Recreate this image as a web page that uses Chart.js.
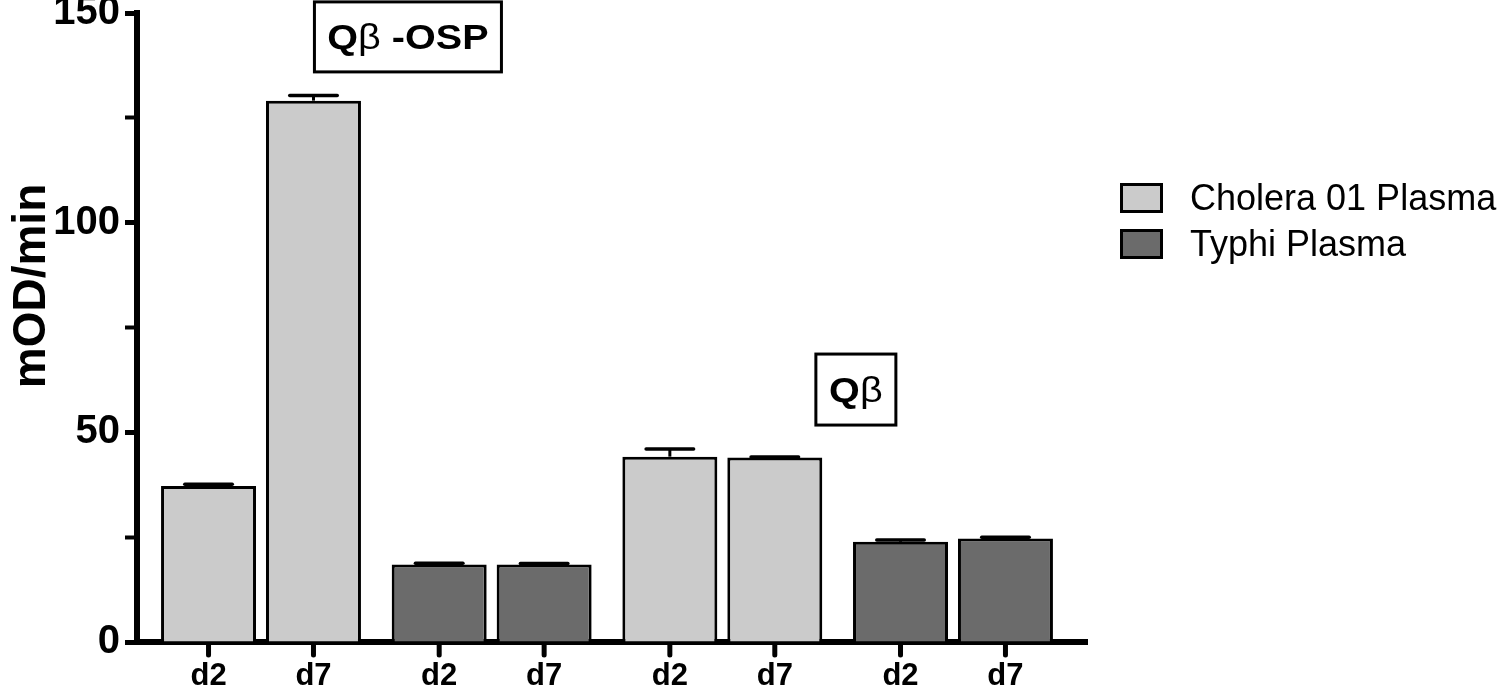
<!DOCTYPE html>
<html>
<head>
<meta charset="utf-8">
<title>mOD/min - Cholera vs Typhi plasma</title>
<script src="https://cdn.jsdelivr.net/npm/chart.js@4.4.0/dist/chart.umd.min.js"></script>
<style>
    html, body { margin: 0; padding: 0; background: #fff; }
    #wrap { position: relative; width: 1500px; height: 689px; }
</style>
</head>
<body>
<div id="wrap"><canvas id="chart"></canvas></div>
<script>
// Values (mOD/min, mean + SEM)
const groups = ['Qβ-OSP / Cholera', 'Qβ-OSP / Typhi', 'Qβ / Cholera', 'Qβ / Typhi'];
const groupPlasma = [0, 1, 0, 1];
const dayLabels = ['d2', 'd7'];
const d2Values = [37.2, 18.5, 44.2, 23.9];
const d7Values = [129.1, 18.5, 44.0, 24.7];
const d2Errors = [0.4, 0.3, 1.8, 0.4];
const d7Errors = [1.2, 0.2, 0.1, 0.3];
const plasmaNames = ['Cholera 01 Plasma', 'Typhi Plasma'];
const yMajorTicks = [0, 50, 100, 150];
const antigenLabels = ['Qβ -OSP', 'Qβ'];
const yTitle = 'mOD/min';

const FONT = 'Arial, "Liberation Sans", sans-serif';
const plasmaFill = ['#cbcbcb', '#6b6b6b'];

// where the boxed antigen labels sit (data units) and their box size (px)
const antigenBoxes = [
    { x: 0.637, y: 144.3, w: 187, h: 70 },
    { x: 2.579, y: 60.2, w: 80, h: 71 }
];

Chart.defaults.font.family = FONT;
Chart.defaults.color = '#000';

function barData(values) {
    return values.map((v, i) => ({ x: i, y: v }));
}

// Q bold, beta regular, like the original figure
function drawMixed(ctx, text, cx, baseline, size, stretch) {
    const parts = [...text].map(ch => ({ ch, font: (ch === 'β' ? '' : 'bold ') + size + 'px ' + FONT }));
    let total = 0;
    parts.forEach(p => { ctx.font = p.font; p.w = ctx.measureText(p.ch).width; total += p.w; });
    ctx.save();
    ctx.translate(cx, baseline);
    ctx.scale(stretch, 1);
    let x = -total / 2;
    ctx.textAlign = 'left';
    ctx.textBaseline = 'alphabetic';
    parts.forEach(p => { ctx.font = p.font; ctx.fillText(p.ch, x, 0); x += p.w; });
    ctx.restore();
}

const figurePlugin = {
    id: 'figure',
    afterDatasetsDraw(chart) {
        const ctx = chart.ctx;
        const y = chart.scales.y;
        const vals = [d2Values, d7Values];
        const errs = [d2Errors, d7Errors];
        ctx.save();
        ctx.strokeStyle = '#000';
        chart.data.datasets.forEach((ds, di) => {
            chart.getDatasetMeta(di).data.forEach((bar, i) => {
                const { x, width } = bar.getProps(['x', 'width'], true);
                const top = y.getPixelForValue(vals[di][i]);
                const end = y.getPixelForValue(vals[di][i] + errs[di][i]);
                ctx.lineWidth = 3;
                ctx.lineCap = 'butt';
                ctx.beginPath();
                ctx.moveTo(x, top);
                ctx.lineTo(x, end);
                ctx.stroke();
                ctx.lineWidth = 3.5;
                ctx.lineCap = 'round';
                ctx.beginPath();
                ctx.moveTo(x - width / 4, end);
                ctx.lineTo(x + width / 4, end);
                ctx.stroke();
            });
        });
        ctx.restore();
    },
    afterDraw(chart) {
        const ctx = chart.ctx;
        const area = chart.chartArea;
        const xs = chart.scales.x;
        const ys = chart.scales.y;
        ctx.save();
        ctx.fillStyle = '#000';
        ctx.strokeStyle = '#000';

        // x ticks + d2/d7 labels under each bar
        chart.data.datasets.forEach((ds, di) => {
            chart.getDatasetMeta(di).data.forEach(bar => {
                const { x } = bar.getProps(['x'], true);
                ctx.lineWidth = 5;
                ctx.lineCap = 'round';
                ctx.beginPath();
                ctx.moveTo(x, area.bottom + 3);
                ctx.lineTo(x, area.bottom + 13);
                ctx.stroke();
                ctx.font = 'bold 31px ' + FONT;
                ctx.textAlign = 'center';
                ctx.textBaseline = 'alphabetic';
                ctx.fillText(dayLabels[di], x, area.bottom + 43);
            });
        });

        // y axis title
        ctx.save();
        ctx.translate(45, 286);
        ctx.rotate(-Math.PI / 2);
        ctx.font = 'bold 46px ' + FONT;
        ctx.textAlign = 'center';
        ctx.textBaseline = 'alphabetic';
        ctx.fillText(yTitle, 0, 0);
        ctx.restore();

        // boxed antigen labels
        antigenBoxes.forEach((b, i) => {
            const cx = xs.getPixelForValue(b.x);
            const cy = ys.getPixelForValue(b.y);
            ctx.lineWidth = 3;
            ctx.lineCap = 'butt';
            ctx.fillStyle = '#fff';
            ctx.fillRect(cx - b.w / 2, cy - b.h / 2, b.w, b.h);
            ctx.strokeRect(cx - b.w / 2, cy - b.h / 2, b.w, b.h);
            ctx.fillStyle = '#000';
            drawMixed(ctx, antigenLabels[i], cx, cy + 12, 35, 1.13);
        });

        // legend
        const left = 1120, top = 183, pitch = 46;
        plasmaNames.forEach((name, i) => {
            const by = top + i * pitch;
            ctx.fillStyle = plasmaFill[i];
            ctx.fillRect(left, by, 43, 30);
            ctx.lineWidth = 3;
            ctx.strokeRect(left + 1.5, by + 1.5, 40, 27);
            ctx.fillStyle = '#000';
            ctx.font = '36px ' + FONT;
            ctx.textAlign = 'left';
            ctx.textBaseline = 'alphabetic';
            ctx.fillText(name, 1190, by + 27);
        });
        ctx.restore();
    }
};

const ctx = document.getElementById('chart').getContext('2d');
new Chart(ctx, {
    type: 'bar',
    data: {
        labels: groups,
        datasets: [
            {
                label: dayLabels[0],
                data: barData(d2Values),
                backgroundColor: groupPlasma.map(p => plasmaFill[p]),
                borderColor: '#000',
                borderWidth: 3,
                categoryPercentage: 0.91,
                barPercentage: 0.905
            },
            {
                label: dayLabels[1],
                data: barData(d7Values),
                backgroundColor: groupPlasma.map(p => plasmaFill[p]),
                borderColor: '#000',
                borderWidth: 3,
                categoryPercentage: 0.91,
                barPercentage: 0.905
            }
        ]
    },
    options: {
        responsive: true,
        maintainAspectRatio: false,
        animation: false,
        layout: { padding: { top: 13, right: 413, bottom: 0, left: 0 } },
        scales: {
            x: {
                type: 'linear',
                offset: false,
                min: -0.5376,
                max: 3.581,
                ticks: { display: false },
                afterBuildTicks: s => { s.ticks = groups.map((g, i) => ({ value: i })); },
                grid: { drawOnChartArea: false, drawTicks: false, offset: false },
                border: { display: true, width: 6, color: '#000' },
                afterFit: s => { s.height = 47; s.paddingLeft = 0; s.paddingRight = 0; }
            },
            y: {
                min: 0,
                max: 150,
                ticks: {
                    stepSize: 25,
                    padding: 5,
                    color: '#000',
                    font: { size: 40, weight: 'bold', lineHeight: 1 },
                    callback: v => yMajorTicks.includes(v) ? String(v) : ''
                },
                grid: {
                    drawOnChartArea: false,
                    drawTicks: true,
                    tickLength: 12,
                    tickWidth: c => (c.tick && c.tick.value % 50) ? 4 : 5,
                    tickColor: '#000'
                },
                border: { display: true, width: 6, color: '#000' },
                afterFit: s => { s.width = 137; s.paddingTop = 0; s.paddingBottom = 0; }
            }
        },
        plugins: {
            legend: { display: false },
            tooltip: { enabled: false }
        }
    },
    plugins: [figurePlugin]
});
</script>
</body>
</html>
